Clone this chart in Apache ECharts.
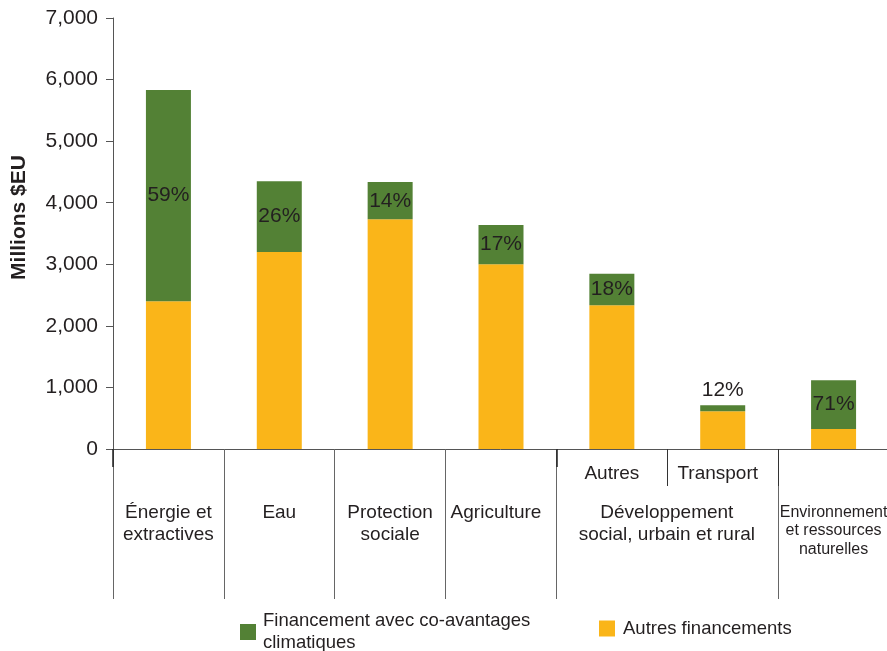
<!DOCTYPE html>
<html>
<head>
<meta charset="utf-8">
<script src="https://cdn.jsdelivr.net/npm/echarts@6/dist/echarts.min.js"></script>
<style>
  html, body { margin: 0; padding: 0; background: #fff; }
  #viz { width: 887px; height: 651px; }
</style>
</head>
<body>
<div id="viz"></div>
<script>
// categories (one per bar)
var categories = ['Énergie et extractives', 'Eau', 'Protection sociale', 'Agriculture',
                  'Autres', 'Transport', 'Environnement et ressources naturelles'];
// second-row group labels and first-row sub labels
var groupLabels = ['Énergie et\nextractives', 'Eau', 'Protection\nsociale', 'Agriculture',
                   'Développement\nsocial, urbain et rural', '', 'Environnement\net ressources\nnaturelles'];
var subLabels = ['', '', '', '', 'Autres', 'Transport', ''];

// values, millions $EU
var otherFin   = [2400, 3200, 3730, 3000, 2335, 615, 323];
var climateFin = [3430, 1150, 605, 640, 510, 95, 795];
var pctLabels  = ['59%', '26%', '14%', '17%', '18%', '12%', '71%'];

var txt = '#231f20';
var font = 'Liberation Sans';

function plotrun() {
  var myChart = echarts.init(document.getElementById('viz'));

  var climateData = [];
  for (var i = 0; i < climateFin.length; i++) {
    // small segment: label goes above the bar
    if (climateFin[i] < 200) {
      climateData.push({ value: climateFin[i], label: { position: 'top' } });
    } else {
      climateData.push(climateFin[i]);
    }
  }

  var option = {
    animation: false,
    textStyle: { fontFamily: font },
    grid: { left: 113, right: -2, top: 18, bottom: 202, outerBoundsMode: 'none', containLabel: false },
    legend: [{
      data: ['Financement avec co-avantages climatiques'],
      left: 240, top: 610, padding: 0,
      icon: 'rect', itemWidth: 16, itemHeight: 16, itemGap: 5,
      formatter: function (n) { return 'Financement avec co-avantages\nclimatiques'; },
      textStyle: { fontSize: 18.5, color: txt, lineHeight: 22, fontFamily: font, padding: [0, 0, 0, 2] }
    }, {
      data: ['Autres financements'],
      left: 599, top: 619, padding: 0,
      icon: 'rect', itemWidth: 16, itemHeight: 16,
      textStyle: { fontSize: 18.5, color: txt, fontFamily: font, padding: [0, 0, 0, 3] }
    }],
    xAxis: [{
      type: 'category', data: categories, position: 'bottom',
      axisLine: { lineStyle: { color: '#555', width: 1 } },
      axisTick: { show: true, length: 150, interval: function (i) { return i !== 5; }, lineStyle: { color: '#666' } },
      axisLabel: {
        interval: 0, margin: 53, color: txt, fontSize: 19, lineHeight: 22,
        formatter: function (v, i) {
          if (i === 3) return '{agr|' + groupLabels[i] + '}';
          if (i === 4) return '{dev|' + groupLabels[i].replace('\n', '}\n{dev|') + '}';
          if (i === 6) {
            var ls = groupLabels[i].split('\n');
            return '{envTop|' + ls[0] + '}\n{env|' + ls[1] + '}\n{env|' + ls[2] + '}';
          }
          return groupLabels[i];
        },
        rich: {
          agr: { fontSize: 19, lineHeight: 22, color: txt, fontFamily: font, padding: [0, 10, 0, 0] },
          dev: { fontSize: 19, lineHeight: 22, color: txt, fontFamily: font, padding: [0, 0, 0, 110] },
          envTop: { fontSize: 16, lineHeight: 19, color: txt, fontFamily: font, padding: [3, 0, 0, 0] },
          env: { fontSize: 16, lineHeight: 19, color: txt, fontFamily: font }
        }
      }
    }, {
      type: 'category', data: categories, position: 'bottom',
      axisLine: { show: false },
      axisTick: { show: true, length: 37, interval: function (i) { return i >= 5; }, lineStyle: { color: '#333' } },
      axisLabel: {
        interval: 0, margin: 15, color: txt, fontSize: 19,
        formatter: function (v, i) {
          return i === 5 ? '{tr|' + subLabels[i] + '}' : subLabels[i];
        },
        rich: {
          tr: { fontSize: 19, color: txt, fontFamily: font, padding: [0, 10, 0, 0] }
        }
      }
    }, {
      type: 'category', data: categories, position: 'bottom',
      axisLine: { show: false },
      axisTick: { show: true, length: 18, interval: function (i) { return i === 0 || i === 4; }, lineStyle: { color: '#222', width: 1.5 } },
      axisLabel: { show: false }
    }],
    yAxis: {
      type: 'value', min: 0, max: 7000, interval: 1000,
      name: 'Millions $EU', nameLocation: 'middle', nameGap: 83, nameRotate: 90,
      nameTextStyle: { fontSize: 21, fontWeight: 'bold', color: txt, fontFamily: font, padding: [0, 0, 0, 32] },
      axisLine: { show: true, lineStyle: { color: '#555' } },
      axisTick: { show: true, length: 7, lineStyle: { color: '#555' } },
      splitLine: { show: false },
      axisLabel: {
        fontSize: 21, color: txt, margin: 15,
        formatter: function (v) { return v.toLocaleString('en-US'); }
      }
    },
    series: [{
      name: 'Autres financements', type: 'bar', stack: 'tot',
      barWidth: 45, itemStyle: { color: '#FAB519' },
      data: otherFin
    }, {
      name: 'Financement avec co-avantages climatiques', type: 'bar', stack: 'tot',
      barWidth: 45, itemStyle: { color: '#538135' },
      label: {
        show: true, position: 'inside', fontSize: 21, color: txt, fontFamily: font,
        formatter: function (p) { return pctLabels[p.dataIndex]; }
      },
      data: climateData
    }]
  };
  myChart.setOption(option);
}
plotrun();
</script>
</body>
</html>
